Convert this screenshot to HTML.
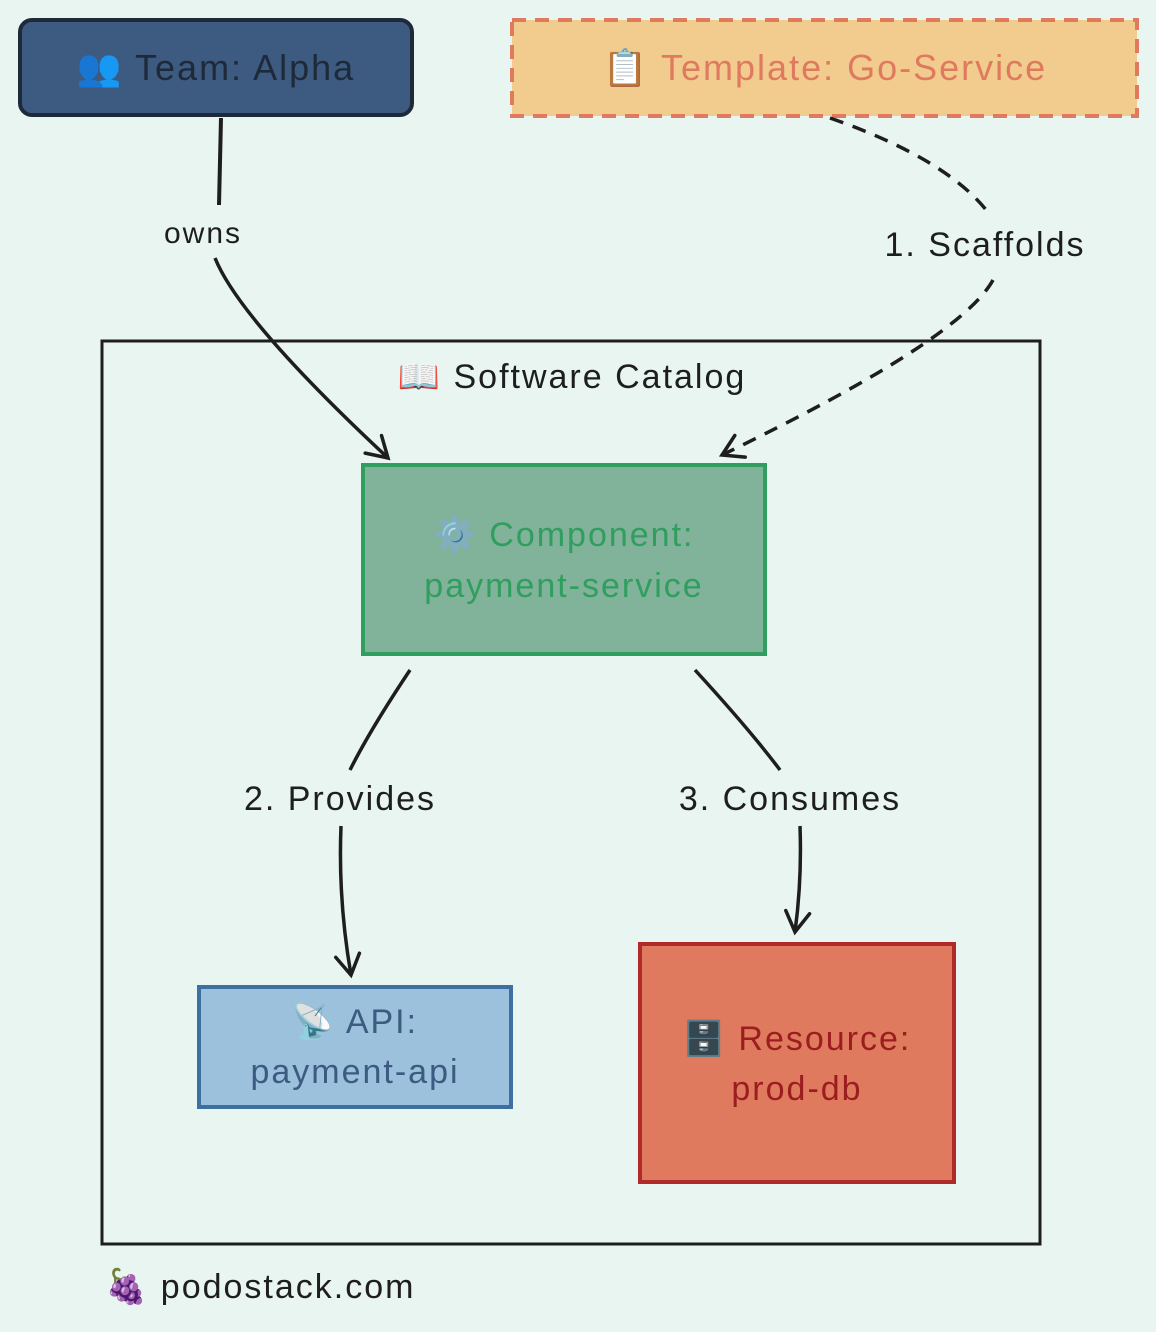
<!DOCTYPE html>
<html><head><meta charset="utf-8"><style>
html,body{margin:0;padding:0;background:#e8f5f0;}
svg{display:block}
text{font-family:"Liberation Sans","Noto Sans CJK JP",sans-serif;letter-spacing:2px;}
</style></head><body>
<svg width="1156" height="1332" viewBox="0 0 1156 1332" xmlns="http://www.w3.org/2000/svg">
<rect width="1156" height="1332" fill="#e8f5f0"/>
<defs>
<marker id="ah" markerWidth="30" markerHeight="30" refX="22" refY="15" orient="auto" markerUnits="userSpaceOnUse">
<path d="M2,3 L22,15 L2,27" fill="none" stroke="#1e1e1e" stroke-width="3.5" stroke-linecap="round"/>
</marker>
</defs>
<!-- Team -->
<rect x="20" y="20" width="392" height="95" rx="12" fill="#3d5a80" stroke="#1e2a3a" stroke-width="4"/>
<text x="216" y="80" font-size="36" text-anchor="middle" fill="#1e2a3a">👥 Team: Alpha</text>
<!-- Template -->
<rect x="512" y="20" width="625" height="96" fill="#f2cc8f" stroke="#e07a5f" stroke-width="4" stroke-dasharray="14 9"/>
<text x="825" y="80" font-size="36" text-anchor="middle" fill="#e07a5f">📋 Template: Go-Service</text>
<!-- Catalog -->
<rect x="102" y="341" width="938" height="903" fill="none" stroke="#1e1e1e" stroke-width="3"/>
<text x="572" y="388" font-size="34" text-anchor="middle" fill="#1e1e1e">📖 Software Catalog</text>
<!-- Component -->
<rect x="363" y="465" width="402" height="189" fill="#81b29a" stroke="#2f9e5e" stroke-width="4"/>
<text x="564" y="546" font-size="34" text-anchor="middle" fill="#2f9e5e">⚙️ Component:</text>
<text x="564" y="597" font-size="34" text-anchor="middle" fill="#2f9e5e">payment-service</text>
<!-- API -->
<rect x="199" y="987" width="312" height="120" fill="#9bc1dc" stroke="#3d6fa0" stroke-width="4"/>
<text x="355" y="1033" font-size="34" text-anchor="middle" fill="#3d5a80">📡 API:</text>
<text x="355" y="1083" font-size="34" text-anchor="middle" fill="#3d5a80">payment-api</text>
<!-- Resource -->
<rect x="640" y="944" width="314" height="238" fill="#e07a5f" stroke="#b02a2a" stroke-width="4"/>
<text x="797" y="1050" font-size="34" text-anchor="middle" fill="#9b1d20">🗄️ Resource:</text>
<text x="797" y="1100" font-size="34" text-anchor="middle" fill="#9b1d20">prod-db</text>
<!-- Connectors -->
<path d="M221,118 L219,205" fill="none" stroke="#1e1e1e" stroke-width="4"/>
<text x="203" y="243" font-size="30" text-anchor="middle" fill="#1e1e1e">owns</text>
<path d="M215,258 Q240,320 388,458" fill="none" stroke="#1e1e1e" stroke-width="3.5" marker-end="url(#ah)"/>
<path d="M830,118 Q950,160 990,215" fill="none" stroke="#1e1e1e" stroke-width="3.5" stroke-dasharray="14 10"/>
<text x="985" y="256" font-size="34" text-anchor="middle" fill="#1e1e1e">1. Scaffolds</text>
<path d="M993,280 Q960,340 722,455" fill="none" stroke="#1e1e1e" stroke-width="3.5" stroke-dasharray="14 10" marker-end="url(#ah)"/>
<path d="M410,670 Q370,730 350,770" fill="none" stroke="#1e1e1e" stroke-width="3.5"/>
<text x="340" y="810" font-size="34" text-anchor="middle" fill="#1e1e1e">2. Provides</text>
<path d="M341,826 Q338,900 351,975" fill="none" stroke="#1e1e1e" stroke-width="3.5" marker-end="url(#ah)"/>
<path d="M695,670 Q750,730 780,770" fill="none" stroke="#1e1e1e" stroke-width="3.5"/>
<text x="790" y="810" font-size="34" text-anchor="middle" fill="#1e1e1e">3. Consumes</text>
<path d="M800,826 Q802,880 795,932" fill="none" stroke="#1e1e1e" stroke-width="3.5" marker-end="url(#ah)"/>
<!-- Footer -->
<text x="105" y="1298" font-size="34" fill="#1e1e1e">🍇  podostack.com</text>
</svg>
</body></html>
